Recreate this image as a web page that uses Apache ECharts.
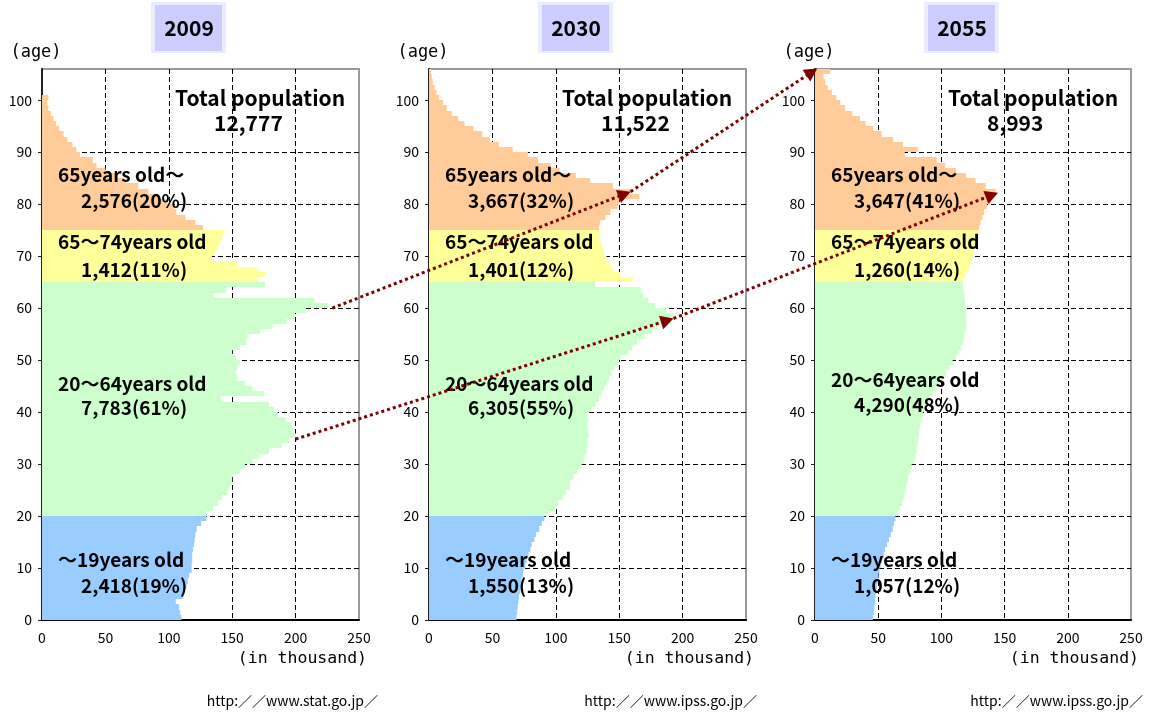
<!DOCTYPE html>
<html>
<head>
<meta charset="utf-8">
<script src="https://cdn.jsdelivr.net/npm/echarts@6/dist/echarts.min.js"></script>
<style>
  html, body { margin: 0; padding: 0; background: #fff; }
  #main { width: 1158px; height: 713px; }
</style>
</head>
<body>
<div id="main"></div>
<script>
// Population pyramids of Japan (one side only), by single year of age.
// Values are in units of 10,000 people; each array starts at its group's first age.

const years = ['2009', '2030', '2055'];
const totals = ['12,777', '11,522', '8,993'];
const sources = ['http:／／www.stat.go.jp／', 'http:／／www.ipss.go.jp／', 'http:／／www.ipss.go.jp／'];
const groupNames = ['～19years old', '20～64years old', '65～74years old', '65years old～'];
const groupFirstAge = [0, 20, 65, 75];

const figures2009 = ['2,418(19%)', '7,783(61%)', '1,412(11%)', '2,576(20%)'];
const figures2030 = ['1,550(13%)', '6,305(55%)', '1,401(12%)', '3,667(32%)'];
const figures2055 = ['1,057(12%)', '4,290(48%)', '1,260(14%)', '3,647(41%)'];

const ageTicks = [0, 10, 20, 30, 40, 50, 60, 70, 80, 90, 100];

// 2009
const age0to19_2009 = [110, 109, 108, 105.5, 110.7, 112, 114, 115, 116, 118, 118, 118.5, 118.5, 119, 120, 120.5, 121, 122, 125.5, 129.5];
const age20to64_2009 = [130, 135, 139, 142, 146, 148, 150, 150, 156, 160, 166, 171, 179, 189, 195, 200, 198, 197, 192, 186, 183, 179, 141, 175, 166, 160, 154, 153, 154, 156, 153, 150, 156, 161, 162, 172, 182, 193, 199, 208, 226, 215, 135, 145, 176];
const age65to74_2009 = [170, 176, 170, 154, 134, 136, 138, 140, 142, 144];
const age75up_2009 = [127, 121, 113, 106, 104, 99, 92, 84, 76, 66, 58, 50, 43, 40, 30, 27, 24, 20, 17, 13.5, 11, 9, 7, 5, 4, 5];

// 2030
const age0to19_2030 = [69, 69.5, 70, 70.5, 71, 72, 72.5, 73, 74, 74.5, 76, 77, 78.5, 80, 81, 83, 84.5, 87, 89, 91];
const age20to64_2030 = [94, 99.5, 102, 105.5, 108, 111, 111, 114, 117, 120.5, 122, 123, 124, 124.5, 125, 126, 125.5, 125, 125.5, 125, 128, 131, 134, 136, 138, 140, 142, 144, 146, 149, 151, 157, 160, 164, 170, 176, 180, 191, 193, 187, 178, 173, 169, 167, 131];
const age65to74_2030 = [161, 151, 145, 143, 140, 138, 137, 136, 135, 135];
const age75up_2030 = [134, 135, 139, 143, 149, 150, 166, 159, 145, 127, 116, 103, 96, 86, 78, 66, 55, 48, 42, 35, 28, 23, 18, 14, 11, 8, 6, 4.5, 3, 2.2, 1.5];

// 2055
const age0to19_2055 = [45.8, 46.5, 47, 47.5, 47.9, 48.4, 48.9, 49.5, 50.3, 51, 52, 53.2, 54.5, 55.5, 57, 58.5, 60, 61.5, 62.5, 63.6];
const age20to64_2055 = [65.5, 67, 69, 70.2, 71, 72, 73.2, 74, 75.5, 76.5, 78.5, 79.5, 80.3, 81, 81.5, 82, 82.6, 83.3, 84, 85.3, 86.6, 88.7, 90.6, 93.2, 95.8, 98.4, 101, 103.7, 106.3, 108.9, 111.5, 113.6, 115.4, 117.3, 118, 119, 119.4, 119.6, 119.4, 119.4, 118.8, 118.6, 118, 117.5, 116.8];
const age65to74_2055 = [117, 119.5, 121.5, 123, 124.5, 125.5, 126, 127, 128.5, 129.5];
const age75up_2055 = [129.8, 131, 132.5, 133.8, 136, 139, 141, 143, 135, 127, 119.4, 111.5, 103, 96.3, 71, 81.4, 69.6, 61.8, 52.6, 46, 40, 35.6, 29.6, 23.8, 20, 16.8, 13.4, 10, 8.1, 6.8, 12];

// Cohort arrows: [panel, population, age]
const cohortA = [[0, 229, 60], [1, 159, 82.4], [2, 1.8, 106.1]];
const cohortB = [[0, 200, 34.8], [1, 192.8, 58.0], [2, 144.8, 82.2]];

const panels = [
  { groups: [age0to19_2009, age20to64_2009, age65to74_2009, age75up_2009], figures: figures2009 },
  { groups: [age0to19_2030, age20to64_2030, age65to74_2030, age75up_2030], figures: figures2030 },
  { groups: [age0to19_2055, age20to64_2055, age65to74_2055, age75up_2055], figures: figures2055 }
];

// ---- layout & style ----
const FONT = '"Noto Sans CJK JP", "Noto Sans", sans-serif';
const MONO = '"DejaVu Sans Mono", monospace';
const groupColors = ['#99ccff', '#ccffcc', '#ffff99', '#ffcc99'];
const gridLeft = [42, 429, 815];
const gridWidth = [317, 317, 316];
const gridTop = 69, gridHeight = 551;
const AGE_MAX = 106;
const sourceRight = [378, 757, 1143];
// vertical centres of [name, figure] for each group label
const labelY = [
  [[560, 586], [384, 408], [242, 270], [175, 201]],
  [[560, 586], [384, 408], [242, 270], [175, 201]],
  [[560, 586], [380, 405], [242, 270], [175, 201]]
];

function panelData(p) {
  const out = [];
  p.groups.forEach((arr, g) => {
    arr.forEach((v, i) => {
      out.push({ value: [groupFirstAge[g] + i, v], itemStyle: { color: groupColors[g] } });
    });
  });
  return out;
}

function renderBar(params, api) {
  const age = api.value(0), v = api.value(1);
  const a = api.coord([0, age]);
  const b = api.coord([v, age + 1]);
  const yTop = Math.round(b[1]), yBot = Math.round(a[1]);
  return {
    type: 'rect',
    shape: { x: a[0], y: yTop, width: b[0] - a[0], height: yBot - yTop },
    style: { fill: api.visual('color') }
  };
}

const grids = [], xAxes = [], yAxes = [], series = [];
panels.forEach((p, i) => {
  grids.push({
    left: gridLeft[i], top: gridTop, width: gridWidth[i], height: gridHeight,
    show: true, borderColor: '#9a9a9a', borderWidth: 2, backgroundColor: 'transparent',
    outerBoundsMode: 'none'
  });
  xAxes.push({
    gridIndex: i, type: 'value', min: 0, max: 250, interval: 50,
    axisLine: { show: true, onZero: false, lineStyle: { color: '#000', width: 2 } },
    axisTick: { show: false },
    axisLabel: { color: '#000', fontSize: 14, fontFamily: FONT, margin: 11 },
    splitLine: { show: true, showMinLine: false, showMaxLine: false, lineStyle: { color: '#000', width: 1, type: [5, 3] } }
  });
  yAxes.push({
    gridIndex: i, type: 'value', min: 0, max: AGE_MAX, interval: 10,
    axisLine: { show: true, onZero: false, lineStyle: { color: '#222', width: 2 } },
    axisTick: { show: true, length: 4, lineStyle: { color: '#222' }, customValues: ageTicks },
    axisLabel: { color: '#000', fontSize: 14, fontFamily: FONT, margin: 10, customValues: ageTicks },
    splitLine: { show: true, showMinLine: false, showMaxLine: false, lineStyle: { color: '#000', width: 1, type: [5, 3] } }
  });
  series.push({
    type: 'custom', xAxisIndex: i, yAxisIndex: i, silent: true,
    renderItem: renderBar, encode: { x: 1, y: 0 },
    data: panelData(p), z: 2
  });
});

// ---- text decorations ----
const graphics = [];
panels.forEach((p, i) => {
  const gl = gridLeft[i];
  const gr = gl + gridWidth[i];
  // year badge
  graphics.push({
    type: 'group', x: gl + 147, y: 0, z: 50,
    children: [
      { type: 'rect', shape: { x: -38, y: 2, width: 75, height: 51 }, style: { fill: '#ececff' } },
      { type: 'rect', shape: { x: -34, y: 5, width: 67, height: 46 }, style: { fill: '#ccccff' } },
      { type: 'text', x: 0, y: 28, style: { text: years[i], font: 'bold 21px ' + FONT, fill: '#000', textAlign: 'center', textVerticalAlign: 'middle' } }
    ]
  });
  graphics.push({ type: 'text', x: gl - 6, y: 53, z: 50,
    style: { text: '(age)', font: '17px ' + MONO, fill: '#000', textAlign: 'center', textVerticalAlign: 'middle' } });
  graphics.push({ type: 'text', x: gr + 8, y: 659, z: 50,
    style: { text: '(in thousand)', font: '16.5px ' + MONO, fill: '#000', textAlign: 'right', textVerticalAlign: 'middle' } });
  graphics.push({ type: 'text', x: sourceRight[i], y: 701, z: 50,
    style: { text: sources[i], font: '14px ' + FONT, fill: '#000', textAlign: 'right', textVerticalAlign: 'middle' } });
  graphics.push({ type: 'text', x: gl + 133, y: 98, z: 50,
    style: { text: 'Total population', font: 'bold 21px ' + FONT, fill: '#000', textAlign: 'left', textVerticalAlign: 'middle' } });
  graphics.push({ type: 'text', x: gl + 172, y: 123, z: 50,
    style: { text: totals[i], font: 'bold 21px ' + FONT, fill: '#000', textAlign: 'left', textVerticalAlign: 'middle' } });
  groupNames.forEach((name, g) => {
    graphics.push({ type: 'text', x: gl + 16, y: labelY[i][g][0], z: 50,
      style: { text: name, font: 'bold 19px ' + FONT, fill: '#000', textAlign: 'left', textVerticalAlign: 'middle' } });
    graphics.push({ type: 'text', x: gl + 39, y: labelY[i][g][1], z: 50,
      style: { text: p.figures[g], font: 'bold 19px ' + FONT, fill: '#000', textAlign: 'left', textVerticalAlign: 'middle' } });
  });
});

const chart = echarts.init(document.getElementById('main'), null, { renderer: 'canvas' });
chart.setOption({
  animation: false,
  backgroundColor: '#fff',
  grid: grids, xAxis: xAxes, yAxis: yAxes, series: series,
  graphic: { elements: graphics }
});

// ---- cohort arrows, placed through each panel's axes ----
const ARROW = '#800000';
function toPx(pt) { return chart.convertToPixel({ gridIndex: pt[0] }, [pt[1], pt[2]]); }
function arrowLeg(p, q) {
  const dx = q[0] - p[0], dy = q[1] - p[1];
  const L = Math.hypot(dx, dy), ux = dx / L, uy = dy / L;
  const head = 13, half = 7;
  const bx = q[0] - ux * head, by = q[1] - uy * head;
  return [
    { type: 'line', z: 100, shape: { x1: p[0], y1: p[1], x2: bx + ux * 3, y2: by + uy * 3 },
      style: { stroke: ARROW, lineWidth: 3, lineDash: [3, 3] } },
    { type: 'polygon', z: 101, shape: { points: [[q[0], q[1]], [bx - uy * half, by + ux * half], [bx + uy * half, by - ux * half]] },
      style: { fill: ARROW } }
  ];
}
const arrowEls = [];
[cohortA, cohortB].forEach(c => {
  const px = c.map(toPx);
  for (let k = 0; k < px.length - 1; k++) arrowEls.push(...arrowLeg(px[k], px[k + 1]));
});
chart.setOption({ graphic: { elements: graphics.concat(arrowEls) } });
</script>
</body>
</html>
